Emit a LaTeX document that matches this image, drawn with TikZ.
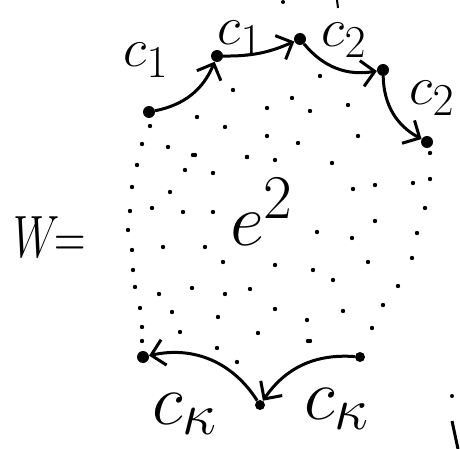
\documentclass[tikz,border=0pt]{standalone}
\usetikzlibrary{arrows.meta}
\begin{document}
\begin{tikzpicture}[x=1pt,y=-1pt,
  vtx/.style={circle,fill=black,inner sep=0pt,minimum size=12pt},
  bvtx/.style={circle,fill=black,inner sep=0pt,minimum size=10pt},
  arc/.style={line width=3pt,-{Straight Barb[length=13pt,width=26pt,line width=3pt]}},
  lab/.style={inner sep=0pt,font=\Huge,scale=2.2},
  biglab/.style={inner sep=0pt,font=\Huge,scale=2.9}]
\useasboundingbox (0,0) rectangle (460,449);
% interior dots
\foreach \x/\y in {137/165,193/155,185/170,213/173,247/157,275/160,332/163,
  132/187,170/192,353/189,375/185,413/183,430/179,
  130/211,152/208,183/212,213/212,425/208,375/221,
  128/230,317/232,352/238,417/233,
  132/250,163/247,205/247,223/262,275/265,313/270,368/262,412/258,
  133/270,333/280,135/287,159/294,192/288,225/294,250/289,398/286,
  140/308,172/312,218/317,275/309,307/320,343/311,383/305,
  142/327,180/332,258/333,310/341,372/328,
  233/90,292/98,267/108,310/111,197/117,225/127,320/76,348/105,358/136,
  267/136,298/143,150/126,142/144,168/147,195/155,247/157,430/153,
  142/341,217/348,237/362,308/341}
  \fill (\x,\y) circle (2.2);
% vertices
\node[vtx] (p1) at (149,112) {};
\node[vtx] (p2) at (217,56) {};
\node[vtx] (p3) at (300,39) {};
\node[vtx] (p4) at (383,70) {};
\node[vtx] (p5) at (427,142) {};
\node[vtx] (b1) at (143,357) {};
\node[bvtx] (b2) at (260,405) {};
\node[bvtx] (b3) at (360,357) {};
% connectors
\draw[arc] (p1) to[bend right=28] (p2);
\draw[arc] (p2) to[bend right=12] (p3);
\draw[arc] (p3) to[bend right=30] (p4);
\draw[arc] (p4) to[bend right=30] (p5);
\draw[arc] (b3) to[bend right=30] (b2);
\draw[arc] (b2) to[bend right=35] (b1);
% labels
\node[lab] (l1) at (146,60) {$c_1$};
\node[lab] (l2) at (240,38) {$c_1$};
\node[lab] (l3) at (344,40) {$c_2$};
\node[lab] (l4) at (432,98) {$c_2$};
\node[biglab] (lk1) at (185,414) {$c_{\kappa}$};
\node[biglab] (lk2) at (337,409) {$c_{\kappa}$};
\node[inner sep=0pt,font=\Huge,xscale=1.75,yscale=2.4] (w) at (50,237) {$W\mkern-2mu{=}$};
\node[inner sep=0pt,font=\Huge,scale=3] (e) at (262,212) {$e^2$};
% stray marks
\fill (283,2) circle (2);
\draw[line width=2pt] (337,0) -- (338,8);
\fill (452,396) circle (2);
\draw[line width=3pt] (452,421) -- (458,449);
\end{tikzpicture}
\end{document}
